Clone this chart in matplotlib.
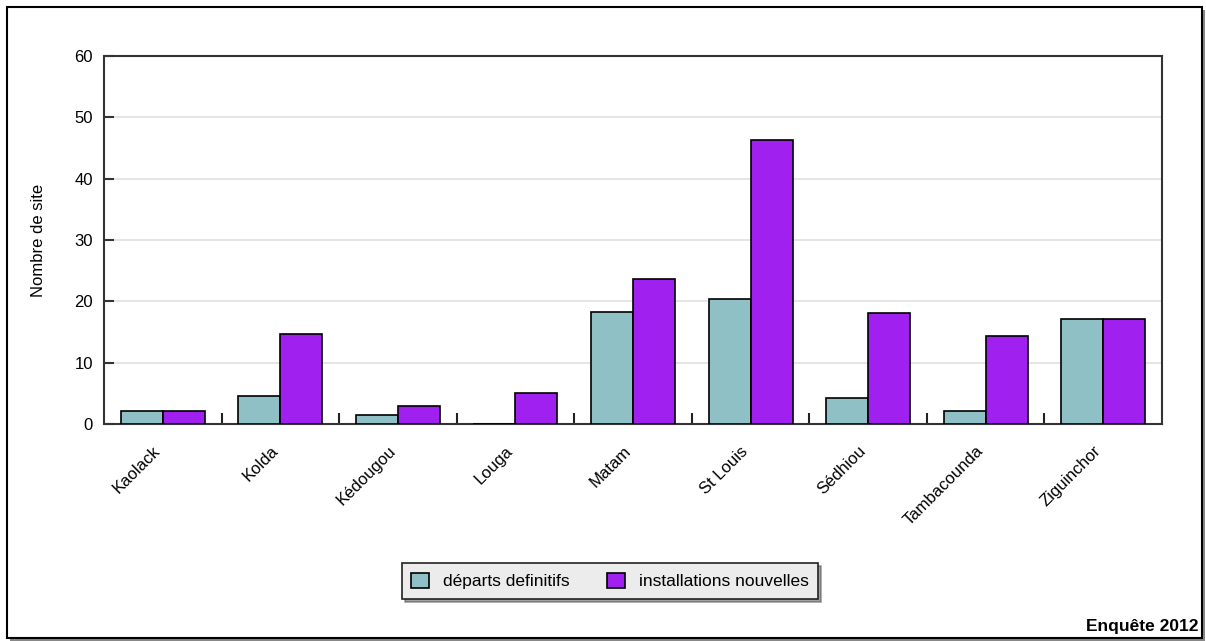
import numpy as np
import matplotlib.pyplot as plt
from matplotlib.patches import Rectangle
from matplotlib.transforms import ScaledTranslation

regions = ['Kaolack', 'Kolda', 'Kédougou', 'Louga', 'Matam', 'St Louis',
           'Sédhiou', 'Tambacounda', 'Ziguinchor']
departs = [2.2, 4.5, 1.4, 0, 18.3, 20.4, 4.3, 2.2, 17.2]
installations = [2.2, 14.7, 2.9, 5.0, 23.6, 46.3, 18.1, 14.4, 17.2]
series_labels = ['départs definitifs', 'installations nouvelles']
teal = '#8FC0C6'
purple = '#A020F0'

plt.rcParams['font.family'] = ['Liberation Sans', 'DejaVu Sans']

fig = plt.figure(figsize=(12.06, 6.41), dpi=100)

# cadre extérieur avec ombre
W, H = 1206, 641
fig.patches.append(Rectangle((10 / W, 0), 1195 / W, 631 / H, transform=fig.transFigure,
                             facecolor='#888888', edgecolor='none', zorder=0))
fig.patches.append(Rectangle((7 / W, 3 / H), 1195 / W, 631 / H, transform=fig.transFigure,
                             facecolor='white', edgecolor='black', linewidth=1.5, zorder=1))

ax = fig.add_axes([104 / W, 1 - 424 / H, 1058 / W, 368 / H])
ax.set_zorder(2)

x = np.arange(len(regions))
w = 0.357
ax.bar(x - w / 2, departs, w, color=teal, edgecolor='black', linewidth=1.2,
       label=series_labels[0], zorder=3)
ax.bar(x + w / 2, installations, w, color=purple, edgecolor='black', linewidth=1.2,
       label=series_labels[1], zorder=3)

ax.set_xlim(-0.5, len(regions) - 0.5)
ax.set_ylim(0, 60)
ax.set_yticks(range(0, 61, 10))
ax.yaxis.grid(True, color='#e0e0e0', linewidth=1.2, zorder=0)
ax.set_axisbelow(True)
ax.tick_params(axis='y', direction='in', length=7, width=1.5, color='#333333',
               labelsize=12, pad=8)

ax.set_xticks(x)
ax.set_xticklabels(regions, rotation=45, ha='right', rotation_mode='anchor', fontsize=12)
ax.set_xticks(x[:-1] + 0.5, minor=True)
ax.tick_params(axis='x', which='major', length=0, pad=14)
ax.tick_params(axis='x', which='minor', direction='in', length=8, width=1.5, color='#222222')
shift = ScaledTranslation(-10 / 100, 0, fig.dpi_scale_trans)
for lab in ax.get_xticklabels():
    lab.set_transform(lab.get_transform() + shift)

for s in ax.spines.values():
    s.set_color('#333333')
    s.set_linewidth(1.5)

ax.set_ylabel('Nombre de site', fontsize=12, labelpad=20)

leg = ax.legend(loc='center', bbox_to_anchor=(610 / W, 1 - 581 / H),
                bbox_transform=fig.transFigure, ncol=2, fontsize=12.5,
                frameon=True, fancybox=False, shadow=True, handlelength=1.0,
                handleheight=1.0, columnspacing=2.2, borderpad=0.55)
leg.get_frame().set_facecolor('#ececec')
leg.get_frame().set_edgecolor('#222222')
leg.get_frame().set_linewidth(1.2)

fig.text(1198 / W, 1 - 627 / H, 'Enquête 2012', ha='right', va='center',
         fontsize=12.5, fontweight='bold', zorder=3)

fig.savefig('out.png', dpi=100)
